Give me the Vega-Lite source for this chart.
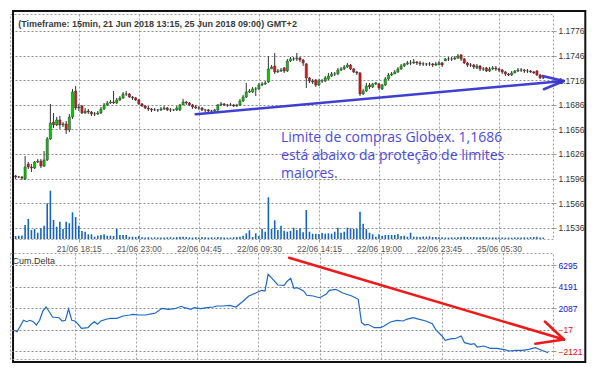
{
  "$schema": "https://vega.github.io/schema/vega-lite/v6.json",
  "background": "white",
  "autosize": {"type": "pad"},
  "padding": {"left": 9, "top": 9, "right": 4, "bottom": 4},
  "config": {
    "view": {"stroke": "#a0a0a0", "strokeDash": [2, 2], "strokeWidth": 1},
    "axis": {
      "gridColor": "#a0a0a0", "gridDash": [2, 2], "gridWidth": 1, "gridOpacity": 1,
      "domain": false, "tickColor": "#999", "tickSize": 3, "labelOverlap": false,
      "labelFont": "Liberation Sans", "labelFontSize": 8.5, "labelColor": "#333", "labelPadding": 2
    }
  },
  "datasets": {
    "bars": [
{"i":0,"o":1.15992,"h":1.16004,"l":1.15955,"c":1.15979,"v":60},
{"i":1,"o":1.15979,"h":1.15992,"l":1.15967,"c":1.15979,"v":66},
{"i":2,"o":1.15979,"h":1.15992,"l":1.15943,"c":1.15967,"v":70},
{"i":3,"o":1.15955,"h":1.16235,"l":1.15943,"c":1.16101,"v":280},
{"i":4,"o":1.16138,"h":1.16162,"l":1.16077,"c":1.16101,"v":400},
{"i":5,"o":1.16101,"h":1.16138,"l":1.16040,"c":1.16089,"v":180},
{"i":6,"o":1.16089,"h":1.16174,"l":1.16077,"c":1.16162,"v":200},
{"i":7,"o":1.16162,"h":1.16199,"l":1.16150,"c":1.16174,"v":126},
{"i":8,"o":1.16174,"h":1.16199,"l":1.16089,"c":1.16113,"v":214},
{"i":9,"o":1.16113,"h":1.16296,"l":1.16101,"c":1.16187,"v":266},
{"i":10,"o":1.16187,"h":1.16467,"l":1.16174,"c":1.16443,"v":714},
{"i":11,"o":1.16443,"h":1.16870,"l":1.16431,"c":1.16638,"v":966},
{"i":12,"o":1.16650,"h":1.16760,"l":1.16577,"c":1.16614,"v":380},
{"i":13,"o":1.16614,"h":1.16711,"l":1.16601,"c":1.16675,"v":246},
{"i":14,"o":1.16675,"h":1.16723,"l":1.16565,"c":1.16614,"v":346},
{"i":15,"o":1.16614,"h":1.16650,"l":1.16589,"c":1.16626,"v":200},
{"i":16,"o":1.16626,"h":1.16662,"l":1.16504,"c":1.16553,"v":346},
{"i":17,"o":1.16553,"h":1.16748,"l":1.16528,"c":1.16711,"v":314},
{"i":18,"o":1.16711,"h":1.17053,"l":1.16687,"c":1.17016,"v":534},
{"i":19,"o":1.17028,"h":1.17089,"l":1.16797,"c":1.16821,"v":440},
{"i":20,"o":1.16821,"h":1.16870,"l":1.16784,"c":1.16833,"v":266},
{"i":21,"o":1.16845,"h":1.16858,"l":1.16748,"c":1.16760,"v":160},
{"i":22,"o":1.16760,"h":1.16821,"l":1.16748,"c":1.16784,"v":146},
{"i":23,"o":1.16784,"h":1.16809,"l":1.16748,"c":1.16772,"v":94},
{"i":24,"o":1.16772,"h":1.16784,"l":1.16723,"c":1.16748,"v":94},
{"i":25,"o":1.16748,"h":1.16772,"l":1.16723,"c":1.16748,"v":46},
{"i":26,"o":1.16748,"h":1.16784,"l":1.16736,"c":1.16760,"v":66},
{"i":27,"o":1.16760,"h":1.16833,"l":1.16748,"c":1.16809,"v":80},
{"i":28,"o":1.16809,"h":1.16882,"l":1.16797,"c":1.16858,"v":94},
{"i":29,"o":1.16858,"h":1.16906,"l":1.16845,"c":1.16882,"v":66},
{"i":30,"o":1.16882,"h":1.16919,"l":1.16870,"c":1.16894,"v":66},
{"i":31,"o":1.16894,"h":1.17028,"l":1.16870,"c":1.16882,"v":60},
{"i":32,"o":1.16882,"h":1.16943,"l":1.16870,"c":1.16919,"v":200},
{"i":33,"o":1.16919,"h":1.16967,"l":1.16906,"c":1.16943,"v":80},
{"i":34,"o":1.16943,"h":1.17016,"l":1.16931,"c":1.16992,"v":80},
{"i":35,"o":1.16992,"h":1.17028,"l":1.16967,"c":1.16992,"v":80},
{"i":36,"o":1.16992,"h":1.17004,"l":1.16943,"c":1.16955,"v":46},
{"i":37,"o":1.16955,"h":1.16967,"l":1.16919,"c":1.16943,"v":46},
{"i":38,"o":1.16943,"h":1.16955,"l":1.16906,"c":1.16919,"v":40},
{"i":39,"o":1.16919,"h":1.16931,"l":1.16858,"c":1.16870,"v":60},
{"i":40,"o":1.16870,"h":1.16882,"l":1.16833,"c":1.16845,"v":34},
{"i":41,"o":1.16845,"h":1.16858,"l":1.16809,"c":1.16821,"v":30},
{"i":42,"o":1.16821,"h":1.16845,"l":1.16784,"c":1.16809,"v":36},
{"i":43,"o":1.16809,"h":1.16821,"l":1.16772,"c":1.16797,"v":30},
{"i":44,"o":1.16797,"h":1.16821,"l":1.16784,"c":1.16797,"v":34},
{"i":45,"o":1.16797,"h":1.16809,"l":1.16772,"c":1.16797,"v":28},
{"i":46,"o":1.16797,"h":1.16833,"l":1.16784,"c":1.16809,"v":32},
{"i":47,"o":1.16809,"h":1.16845,"l":1.16797,"c":1.16821,"v":30},
{"i":48,"o":1.16821,"h":1.16833,"l":1.16784,"c":1.16797,"v":34},
{"i":49,"o":1.16797,"h":1.16821,"l":1.16772,"c":1.16797,"v":36},
{"i":50,"o":1.16797,"h":1.16809,"l":1.16784,"c":1.16797,"v":30},
{"i":51,"o":1.16797,"h":1.16845,"l":1.16784,"c":1.16821,"v":38},
{"i":52,"o":1.16797,"h":1.16870,"l":1.16784,"c":1.16858,"v":46},
{"i":53,"o":1.16858,"h":1.16931,"l":1.16858,"c":1.16894,"v":44},
{"i":54,"o":1.16894,"h":1.16906,"l":1.16858,"c":1.16882,"v":40},
{"i":55,"o":1.16882,"h":1.16894,"l":1.16845,"c":1.16858,"v":34},
{"i":56,"o":1.16858,"h":1.16870,"l":1.16809,"c":1.16833,"v":30},
{"i":57,"o":1.16833,"h":1.16858,"l":1.16809,"c":1.16821,"v":36},
{"i":58,"o":1.16821,"h":1.16845,"l":1.16797,"c":1.16821,"v":32},
{"i":59,"o":1.16821,"h":1.16833,"l":1.16784,"c":1.16797,"v":40},
{"i":60,"o":1.16797,"h":1.16809,"l":1.16772,"c":1.16797,"v":34},
{"i":61,"o":1.16797,"h":1.16809,"l":1.16772,"c":1.16784,"v":30},
{"i":62,"o":1.16784,"h":1.16797,"l":1.16772,"c":1.16784,"v":36},
{"i":63,"o":1.16784,"h":1.16809,"l":1.16772,"c":1.16797,"v":30},
{"i":64,"o":1.16797,"h":1.16870,"l":1.16784,"c":1.16858,"v":40},
{"i":65,"o":1.16858,"h":1.16894,"l":1.16845,"c":1.16870,"v":34},
{"i":66,"o":1.16870,"h":1.16882,"l":1.16845,"c":1.16858,"v":30},
{"i":67,"o":1.16858,"h":1.16870,"l":1.16833,"c":1.16858,"v":28},
{"i":68,"o":1.16858,"h":1.16882,"l":1.16845,"c":1.16858,"v":32},
{"i":69,"o":1.16858,"h":1.16870,"l":1.16833,"c":1.16845,"v":36},
{"i":70,"o":1.16845,"h":1.16870,"l":1.16833,"c":1.16858,"v":40},
{"i":71,"o":1.16858,"h":1.16931,"l":1.16845,"c":1.16906,"v":44},
{"i":72,"o":1.16906,"h":1.16980,"l":1.16894,"c":1.16955,"v":66},
{"i":73,"o":1.16955,"h":1.17126,"l":1.16943,"c":1.17016,"v":114},
{"i":74,"o":1.17016,"h":1.17053,"l":1.17004,"c":1.17028,"v":174},
{"i":75,"o":1.17016,"h":1.17077,"l":1.17004,"c":1.17053,"v":40},
{"i":76,"o":1.17053,"h":1.17077,"l":1.16967,"c":1.17053,"v":114},
{"i":77,"o":1.17053,"h":1.17126,"l":1.17040,"c":1.17101,"v":60},
{"i":78,"o":1.17101,"h":1.17138,"l":1.17089,"c":1.17114,"v":200},
{"i":79,"o":1.17114,"h":1.17150,"l":1.17101,"c":1.17126,"v":146},
{"i":80,"o":1.17138,"h":1.17455,"l":1.17126,"c":1.17297,"v":834},
{"i":81,"o":1.17297,"h":1.17345,"l":1.17297,"c":1.17321,"v":200},
{"i":82,"o":1.17333,"h":1.17492,"l":1.17236,"c":1.17260,"v":374},
{"i":83,"o":1.17260,"h":1.17297,"l":1.17248,"c":1.17272,"v":180},
{"i":84,"o":1.17272,"h":1.17309,"l":1.17260,"c":1.17284,"v":266},
{"i":85,"o":1.17309,"h":1.17321,"l":1.17248,"c":1.17272,"v":166},
{"i":86,"o":1.17272,"h":1.17419,"l":1.17260,"c":1.17394,"v":146},
{"i":87,"o":1.17394,"h":1.17443,"l":1.17382,"c":1.17419,"v":160},
{"i":88,"o":1.17419,"h":1.17443,"l":1.17394,"c":1.17419,"v":226},
{"i":89,"o":1.17419,"h":1.17492,"l":1.17394,"c":1.17431,"v":180},
{"i":90,"o":1.17431,"h":1.17443,"l":1.17382,"c":1.17406,"v":214},
{"i":91,"o":1.17406,"h":1.17419,"l":1.17333,"c":1.17370,"v":134},
{"i":92,"o":1.17358,"h":1.17370,"l":1.17065,"c":1.17187,"v":580},
{"i":93,"o":1.17187,"h":1.17199,"l":1.17126,"c":1.17150,"v":146},
{"i":94,"o":1.17150,"h":1.17175,"l":1.17114,"c":1.17138,"v":106},
{"i":95,"o":1.17162,"h":1.17175,"l":1.17077,"c":1.17101,"v":106},
{"i":96,"o":1.17101,"h":1.17175,"l":1.17089,"c":1.17150,"v":100},
{"i":97,"o":1.17150,"h":1.17175,"l":1.17126,"c":1.17150,"v":120},
{"i":98,"o":1.17150,"h":1.17211,"l":1.17138,"c":1.17187,"v":106},
{"i":99,"o":1.17175,"h":1.17248,"l":1.17162,"c":1.17211,"v":114},
{"i":100,"o":1.17211,"h":1.17260,"l":1.17199,"c":1.17236,"v":106},
{"i":101,"o":1.17236,"h":1.17260,"l":1.17211,"c":1.17236,"v":146},
{"i":102,"o":1.17236,"h":1.17309,"l":1.17223,"c":1.17284,"v":226},
{"i":103,"o":1.17284,"h":1.17321,"l":1.17272,"c":1.17297,"v":126},
{"i":104,"o":1.17297,"h":1.17345,"l":1.17284,"c":1.17321,"v":146},
{"i":105,"o":1.17321,"h":1.17370,"l":1.17309,"c":1.17345,"v":226},
{"i":106,"o":1.17345,"h":1.17358,"l":1.17284,"c":1.17297,"v":214},
{"i":107,"o":1.17297,"h":1.17309,"l":1.17248,"c":1.17260,"v":200},
{"i":108,"o":1.17260,"h":1.17272,"l":1.17223,"c":1.17248,"v":200},
{"i":109,"o":1.17248,"h":1.17260,"l":1.16967,"c":1.16992,"v":546},
{"i":110,"o":1.16992,"h":1.17053,"l":1.16980,"c":1.17028,"v":306},
{"i":111,"o":1.17028,"h":1.17126,"l":1.17016,"c":1.17089,"v":200},
{"i":112,"o":1.17101,"h":1.17126,"l":1.17053,"c":1.17077,"v":126},
{"i":113,"o":1.17077,"h":1.17126,"l":1.17065,"c":1.17114,"v":94},
{"i":114,"o":1.17114,"h":1.17138,"l":1.17101,"c":1.17126,"v":46},
{"i":115,"o":1.17114,"h":1.17126,"l":1.17040,"c":1.17065,"v":94},
{"i":116,"o":1.17053,"h":1.17114,"l":1.17040,"c":1.17101,"v":66},
{"i":117,"o":1.17101,"h":1.17199,"l":1.17089,"c":1.17175,"v":80},
{"i":118,"o":1.17175,"h":1.17248,"l":1.17162,"c":1.17223,"v":80},
{"i":119,"o":1.17223,"h":1.17260,"l":1.17211,"c":1.17236,"v":80},
{"i":120,"o":1.17236,"h":1.17284,"l":1.17236,"c":1.17260,"v":80},
{"i":121,"o":1.17260,"h":1.17321,"l":1.17248,"c":1.17297,"v":100},
{"i":122,"o":1.17297,"h":1.17358,"l":1.17284,"c":1.17333,"v":60},
{"i":123,"o":1.17333,"h":1.17370,"l":1.17321,"c":1.17358,"v":66},
{"i":124,"o":1.17358,"h":1.17394,"l":1.17345,"c":1.17370,"v":46},
{"i":125,"o":1.17370,"h":1.17406,"l":1.17345,"c":1.17370,"v":126},
{"i":126,"o":1.17370,"h":1.17419,"l":1.17358,"c":1.17382,"v":46},
{"i":127,"o":1.17382,"h":1.17394,"l":1.17345,"c":1.17370,"v":46},
{"i":128,"o":1.17370,"h":1.17394,"l":1.17333,"c":1.17358,"v":40},
{"i":129,"o":1.17358,"h":1.17382,"l":1.17333,"c":1.17358,"v":50},
{"i":130,"o":1.17358,"h":1.17370,"l":1.17333,"c":1.17358,"v":46},
{"i":131,"o":1.17358,"h":1.17382,"l":1.17333,"c":1.17358,"v":54},
{"i":132,"o":1.17358,"h":1.17370,"l":1.17321,"c":1.17345,"v":40},
{"i":133,"o":1.17345,"h":1.17382,"l":1.17333,"c":1.17358,"v":40},
{"i":134,"o":1.17345,"h":1.17394,"l":1.17345,"c":1.17370,"v":34},
{"i":135,"o":1.17370,"h":1.17382,"l":1.17321,"c":1.17345,"v":36},
{"i":136,"o":1.17394,"h":1.17431,"l":1.17394,"c":1.17419,"v":30},
{"i":137,"o":1.17419,"h":1.17443,"l":1.17394,"c":1.17419,"v":28},
{"i":138,"o":1.17419,"h":1.17443,"l":1.17394,"c":1.17419,"v":34},
{"i":139,"o":1.17419,"h":1.17455,"l":1.17406,"c":1.17431,"v":30},
{"i":140,"o":1.17431,"h":1.17480,"l":1.17419,"c":1.17455,"v":36},
{"i":141,"o":1.17467,"h":1.17480,"l":1.17394,"c":1.17419,"v":40},
{"i":142,"o":1.17419,"h":1.17431,"l":1.17358,"c":1.17370,"v":46},
{"i":143,"o":1.17370,"h":1.17382,"l":1.17321,"c":1.17345,"v":40},
{"i":144,"o":1.17345,"h":1.17370,"l":1.17321,"c":1.17345,"v":36},
{"i":145,"o":1.17345,"h":1.17358,"l":1.17297,"c":1.17321,"v":40},
{"i":146,"o":1.17309,"h":1.17358,"l":1.17297,"c":1.17333,"v":34},
{"i":147,"o":1.17333,"h":1.17345,"l":1.17272,"c":1.17297,"v":36},
{"i":148,"o":1.17297,"h":1.17321,"l":1.17272,"c":1.17297,"v":40},
{"i":149,"o":1.17309,"h":1.17321,"l":1.17260,"c":1.17272,"v":36},
{"i":150,"o":1.17272,"h":1.17321,"l":1.17260,"c":1.17297,"v":30},
{"i":151,"o":1.17297,"h":1.17333,"l":1.17284,"c":1.17309,"v":34},
{"i":152,"o":1.17309,"h":1.17333,"l":1.17272,"c":1.17297,"v":28},
{"i":153,"o":1.17297,"h":1.17309,"l":1.17260,"c":1.17284,"v":30},
{"i":154,"o":1.17284,"h":1.17297,"l":1.17236,"c":1.17260,"v":32},
{"i":155,"o":1.17260,"h":1.17272,"l":1.17211,"c":1.17236,"v":28},
{"i":156,"o":1.17236,"h":1.17248,"l":1.17211,"c":1.17223,"v":30},
{"i":157,"o":1.17223,"h":1.17272,"l":1.17211,"c":1.17248,"v":26},
{"i":158,"o":1.17248,"h":1.17284,"l":1.17248,"c":1.17272,"v":30},
{"i":159,"o":1.17272,"h":1.17309,"l":1.17260,"c":1.17284,"v":28},
{"i":160,"o":1.17284,"h":1.17309,"l":1.17260,"c":1.17284,"v":30},
{"i":161,"o":1.17284,"h":1.17297,"l":1.17248,"c":1.17272,"v":34},
{"i":162,"o":1.17272,"h":1.17297,"l":1.17248,"c":1.17272,"v":30},
{"i":163,"o":1.17272,"h":1.17284,"l":1.17248,"c":1.17260,"v":36},
{"i":164,"o":1.17260,"h":1.17272,"l":1.17236,"c":1.17248,"v":40},
{"i":165,"o":1.17272,"h":1.17284,"l":1.17211,"c":1.17223,"v":46},
{"i":166,"o":1.17223,"h":1.17236,"l":1.17175,"c":1.17187,"v":30},
{"i":167,"o":1.17187,"h":1.17211,"l":1.17175,"c":1.17187,"v":28}
    ],
    "delta": [
{"i":1,"d":-66},{"i":2,"d":-203},{"i":4,"d":913},{"i":5,"d":776},{"i":6,"d":913},{"i":7,"d":776},{"i":8,"d":453},{"i":9,"d":913},{"i":10,"d":1823},{"i":11,"d":2214},{"i":12,"d":1754},{"i":13,"d":1236},{"i":15,"d":1167},{"i":16,"d":844},{"i":17,"d":913},{"i":18,"d":2019},{"i":19,"d":913},{"i":20,"d":844},{"i":21,"d":521},{"i":22,"d":130},{"i":24,"d":189},{"i":25,"d":521},{"i":26,"d":776},{"i":27,"d":521},{"i":28,"d":844},{"i":30,"d":1040},{"i":31,"d":1108},{"i":33,"d":1108},{"i":35,"d":1334},{"i":37,"d":1432},{"i":38,"d":1500},{"i":40,"d":1432},{"i":42,"d":1432},{"i":44,"d":1559},{"i":45,"d":1627},{"i":47,"d":2087},{"i":49,"d":1989},{"i":51,"d":2048},{"i":53,"d":2283},{"i":54,"d":2146},{"i":56,"d":1989},{"i":57,"d":2146},{"i":59,"d":2048},{"i":61,"d":2146},{"i":63,"d":2214},{"i":64,"d":2312},{"i":66,"d":2312},{"i":68,"d":2381},{"i":70,"d":2214},{"i":72,"d":2733},{"i":74,"d":3291},{"i":76,"d":3555},{"i":77,"d":3711},{"i":78,"d":3848},{"i":79,"d":3780},{"i":80,"d":5414},{"i":81,"d":5081},{"i":83,"d":4367},{"i":85,"d":4338},{"i":86,"d":4759},{"i":87,"d":5023},{"i":88,"d":4044},{"i":89,"d":4103},{"i":90,"d":3946},{"i":91,"d":3780},{"i":92,"d":3359},{"i":94,"d":3291},{"i":96,"d":3124},{"i":98,"d":3457},{"i":99,"d":3848},{"i":101,"d":3946},{"i":102,"d":3780},{"i":103,"d":3614},{"i":106,"d":3291},{"i":108,"d":2968},{"i":109,"d":700},{"i":110,"d":453},{"i":111,"d":521},{"i":113,"d":189},{"i":115,"d":189},{"i":116,"d":355},{"i":118,"d":746},{"i":120,"d":913},{"i":122,"d":844},{"i":123,"d":1010},{"i":125,"d":1167},{"i":127,"d":1010},{"i":129,"d":844},{"i":131,"d":580},{"i":132,"d":32},{"i":134,"d":-624},{"i":135,"d":-1044},{"i":137,"d":-888},{"i":138,"d":-888},{"i":140,"d":-624},{"i":141,"d":-1279},{"i":143,"d":-1436},{"i":144,"d":-1377},{"i":145,"d":-1700},{"i":147,"d":-1602},{"i":149,"d":-1827},{"i":151,"d":-1827},{"i":153,"d":-1925},{"i":155,"d":-2092},{"i":157,"d":-2023},{"i":159,"d":-2023},{"i":161,"d":-1925},{"i":163,"d":-1769},{"i":165,"d":-2023},{"i":167,"d":-2258}
    ]
  },
  "spacing": 14,
  "bounds": "flush",
  "vconcat": [
    {
      "width": 543,
      "height": 225,
      "resolve": {"scale": {"y": "independent"}, "axis": {"y": "independent"}},
      "layer": [
        {
          "resolve": {"axis": {"x": "independent", "y": "independent"}},
          "layer": [
            {
              "data": {"values": [{"x1": -0.82136, "x2": 180.305, "y1": 1.1800359, "y2": 1.137229}]},
              "mark": {"type": "rect", "fill": "transparent", "stroke": "#111", "strokeWidth": 2},
              "encoding": {
                "x": {"field": "x1", "type": "quantitative", "title": null, "scale": {"domain": [-0.2, 168.5], "nice": false, "zero": false},
                  "axis": {"values": [20, 39, 58, 77, 96, 115, 134, 153], "grid": true, "labelOverlap": false, "labelExpr": "['21/06 18:15','21/06 23:00','22/06 04:45','22/06 09:30','22/06 14:15','22/06 19:00','22/06 23:45','25/06 05:30'][indexof([20,39,58,77,96,115,134,153], datum.value)]", "labelColor": "#555"}},
                "x2": {"field": "x2"},
                "y": {"field": "y1", "type": "quantitative", "title": null, "scale": {"domain": [1.15223, 1.17967], "nice": false, "zero": false},
                  "axis": {"orient": "right", "values": [1.1536, 1.1566, 1.1596, 1.1626, 1.1656, 1.1686, 1.1716, 1.1746, 1.1776], "format": ".4f", "grid": true, "gridColor": "#8c8c8c", "labelOverlap": false}},
                "y2": {"field": "y2"}
              }
            },
            {
              "data": {"name": "bars"},
              "mark": {"type": "rule", "color": "#333", "strokeWidth": 1},
              "encoding": {
                "x": {"field": "i", "type": "quantitative", "title": null, "scale": {"domain": [-0.2, 168.5], "nice": false, "zero": false}, "axis": null},
                "y": {"field": "l", "type": "quantitative", "title": null, "scale": {"domain": [1.15223, 1.17967], "nice": false, "zero": false}, "axis": null},
                "y2": {"field": "h"}
              }
            },
            {
              "data": {"name": "bars"},
              "mark": {"type": "bar", "size": 2.2, "stroke": "#333", "strokeWidth": 0.5},
              "encoding": {
                "x": {"field": "i", "type": "quantitative", "title": null, "scale": {"domain": [-0.2, 168.5], "nice": false, "zero": false}, "axis": null},
                "y": {"field": "o", "type": "quantitative", "title": null, "scale": {"domain": [1.15223, 1.17967], "nice": false, "zero": false}, "axis": null},
                "y2": {"field": "c"},
                "color": {"condition": {"test": "datum.c >= datum.o", "value": "#00cc00"}, "value": "#e8101a"}
              }
            },
            {
              "data": {"values": [
                {"x1": 57.0, "y1": 1.16744, "x2": 173.5, "y2": 1.1715},
                {"x1": 166.8, "y1": 1.17211, "x2": 173.5, "y2": 1.1715},
                {"x1": 167.2, "y1": 1.17049, "x2": 173.5, "y2": 1.1715}
              ]},
              "mark": {"type": "rule", "color": "#3535d0", "strokeWidth": 2.5, "strokeCap": "round", "opacity": 0.95},
              "encoding": {
                "x": {"field": "x1", "type": "quantitative", "title": null, "scale": {"domain": [-0.2, 168.5], "nice": false, "zero": false}, "axis": null},
                "x2": {"field": "x2"},
                "y": {"field": "y1", "type": "quantitative", "title": null, "scale": {"domain": [1.15223, 1.17967], "nice": false, "zero": false}, "axis": null},
                "y2": {"field": "y2"}
              }
            },
            {
              "data": {"values": [
                {"x": 84.0, "y": 1.16459, "t": "Limite de compras Globex. 1,1686"},
                {"x": 84.0, "y": 1.16236, "t": "está abaixo da proteção de limites"},
                {"x": 84.0, "y": 1.16012, "t": "maiores."}
              ]},
              "mark": {"type": "text", "align": "left", "baseline": "middle", "font": "Open Sans", "fontSize": 14, "color": "#4b4be0"},
              "encoding": {
                "x": {"field": "x", "type": "quantitative", "title": null, "scale": {"domain": [-0.2, 168.5], "nice": false, "zero": false}, "axis": null},
                "y": {"field": "y", "type": "quantitative", "title": null, "scale": {"domain": [1.15223, 1.17967], "nice": false, "zero": false}, "axis": null},
                "text": {"field": "t"}
              }
            },
            {
              "data": {"values": [{"x": 0.8, "y": 1.17845, "t": "(Timeframe: 15min, 21 Jun 2018 13:15, 25 Jun 2018 09:00) GMT+2"}]},
              "mark": {"type": "text", "align": "left", "baseline": "middle", "font": "Liberation Sans", "fontSize": 9, "fontWeight": "bold", "color": "#3a3a3a"},
              "encoding": {
                "x": {"field": "x", "type": "quantitative", "title": null, "scale": {"domain": [-0.2, 168.5], "nice": false, "zero": false}, "axis": null},
                "y": {"field": "y", "type": "quantitative", "title": null, "scale": {"domain": [1.15223, 1.17967], "nice": false, "zero": false}, "axis": null},
                "text": {"field": "t"}
              }
            }
          ]
        },
        {
          "data": {"name": "bars"},
          "mark": {"type": "bar", "size": 1.6, "color": "#1565c0"},
          "encoding": {
            "x": {"field": "i", "type": "quantitative", "title": null, "scale": {"domain": [-0.2, 168.5], "nice": false, "zero": false}, "axis": null},
            "y": {"field": "v", "type": "quantitative", "title": null, "scale": {"domain": [0, 4500], "nice": false}, "axis": null}
          }
        }
      ]
    },
    {
      "width": 543,
      "height": 106,
      "resolve": {"axis": {"x": "independent", "y": "independent"}},
      "layer": [
        {
          "data": {"name": "delta"},
          "mark": {"type": "line", "color": "#1a68c8", "strokeWidth": 1.2},
          "encoding": {
            "x": {"field": "i", "type": "quantitative", "title": null, "scale": {"domain": [-0.2, 168.5], "nice": false, "zero": false},
              "axis": {"values": [20, 39, 58, 77, 96, 115, 134, 153], "grid": true, "labels": false, "ticks": false}},
            "y": {"field": "d", "type": "quantitative", "title": null, "scale": {"domain": [-2874, 7499], "nice": false, "zero": false},
              "axis": {"orient": "right", "values": [-2121, -17, 2087, 4191, 6295], "format": "d", "grid": true, "gridColor": "#8c8c8c", "labelOverlap": false,
                "labelColor": {"condition": {"test": "datum.value < 0", "value": "#ff0000"}, "value": "#1010e0"}}}
          }
        },
        {
          "data": {"values": [{"x": 0.6, "y": 6716, "t": "Cum.Delta"}]},
          "mark": {"type": "text", "align": "left", "baseline": "middle", "font": "Liberation Sans", "fontSize": 9, "color": "#333"},
          "encoding": {
            "x": {"field": "x", "type": "quantitative", "title": null, "scale": {"domain": [-0.2, 168.5], "nice": false, "zero": false}, "axis": null},
            "y": {"field": "y", "type": "quantitative", "title": null, "scale": {"domain": [-2874, 7499], "nice": false, "zero": false}, "axis": null},
            "text": {"field": "t"}
          }
        },
        {
          "data": {"values": [
            {"x1": 86.5, "y1": 7039, "x2": 171.9, "y2": -966},
            {"x1": 165.96, "y1": 795, "x2": 171.9, "y2": -966},
            {"x1": 163.0, "y1": -1387, "x2": 171.9, "y2": -966}
          ]},
          "mark": {"type": "rule", "color": "#f01818", "strokeWidth": 2.5, "strokeCap": "round"},
          "encoding": {
            "x": {"field": "x1", "type": "quantitative", "title": null, "scale": {"domain": [-0.2, 168.5], "nice": false, "zero": false}, "axis": null},
            "x2": {"field": "x2"},
            "y": {"field": "y1", "type": "quantitative", "title": null, "scale": {"domain": [-2874, 7499], "nice": false, "zero": false}, "axis": null},
            "y2": {"field": "y2"}
          }
        }
      ]
    }
  ]
}
